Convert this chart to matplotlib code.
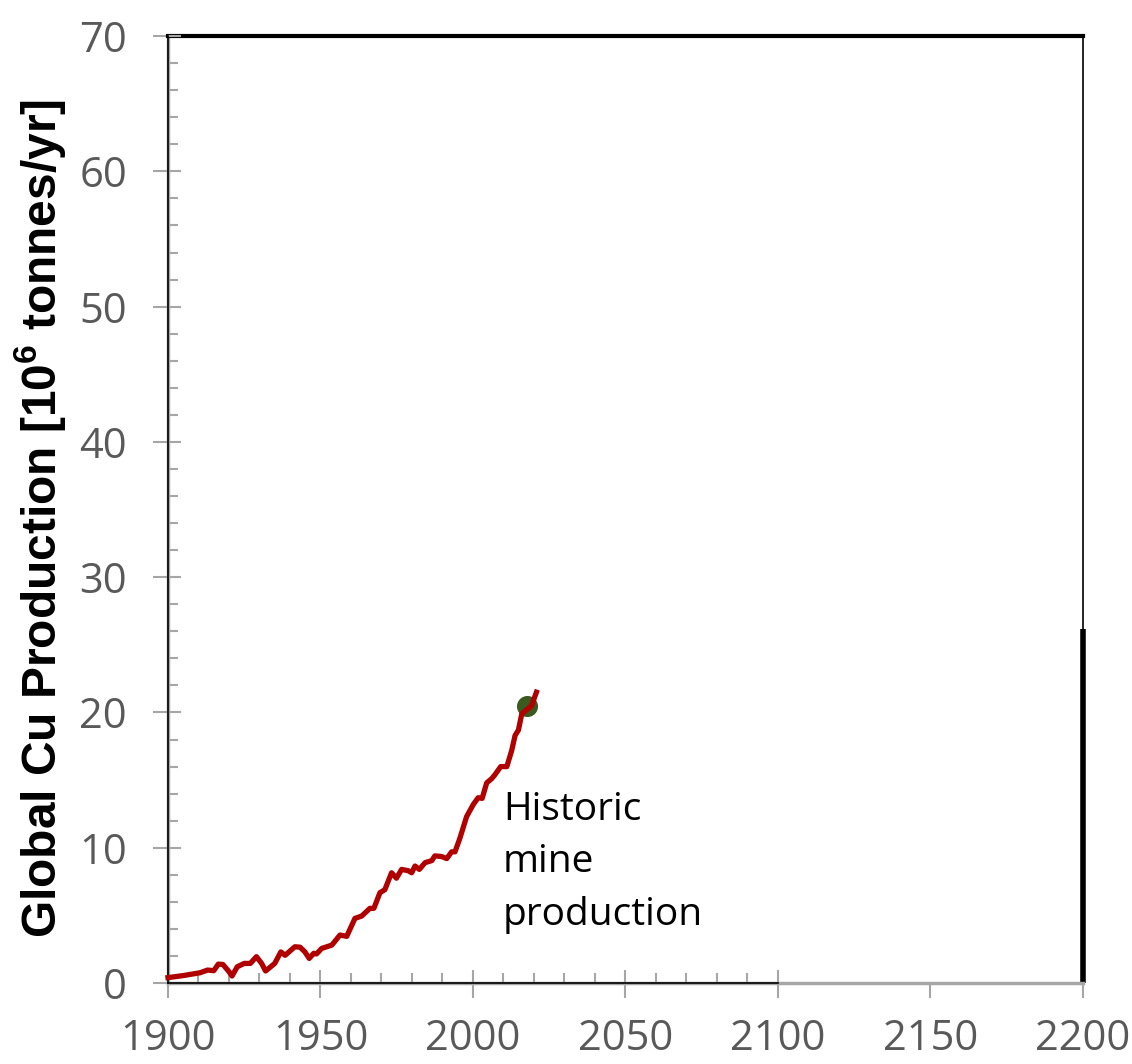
#!/usr/bin/env python

"""
Global copper mine production, 1900 to today, on a 1900-2200 frame.
"""

import matplotlib
matplotlib.use('Agg')
import matplotlib.pyplot as plt
from matplotlib.ticker import MultipleLocator

# Historic mine production [10^6 t/yr]
YEARS = [1900, 1905, 1910.5, 1913, 1915, 1916.5, 1918, 1920, 1921, 1922.7,
         1925, 1927, 1929, 1930.7, 1932, 1935, 1937, 1938.4, 1941.6, 1943.3,
         1944.9, 1946.3, 1947.8, 1948.7, 1950.4, 1953.7, 1956.4, 1958.6, 1961.3, 1963.5,
         1966.2, 1967.5, 1969.5, 1971.1, 1973.3, 1974.9, 1976.6, 1978.8, 1979.9, 1981,
         1982.4, 1984.3, 1986.5, 1987.5, 1989.7, 1991.4, 1993, 1994.1, 1995.7, 1997.9,
         2000.1, 2001.7, 2003, 2004.5, 2006.1, 2007.2, 2009.1, 2011.1, 2012.7, 2013.8,
         2014.9, 2016, 2017.6, 2019.2, 2020.8]
PRODUCTION = [0.40, 0.55, 0.76, 0.96, 0.91, 1.40, 1.37, 0.84, 0.52, 1.20,
              1.45, 1.45, 1.95, 1.45, 0.89, 1.45, 2.30, 2.05, 2.68, 2.65,
              2.30, 1.82, 2.20, 2.15, 2.56, 2.80, 3.55, 3.45, 4.78, 4.95,
              5.52, 5.52, 6.68, 6.90, 8.15, 7.75, 8.40, 8.30, 8.15, 8.65,
              8.40, 8.90, 9.05, 9.40, 9.35, 9.20, 9.70, 9.70, 10.7, 12.3,
              13.2, 13.7, 13.65, 14.8, 15.1, 15.4, 16.0, 16.0, 17.2, 18.3,
              18.7, 19.9, 20.2, 20.5, 21.5]

# Current-year marker
NOW_YEAR = [2017.6]
NOW_PROD = [20.5]

XMIN, XMAX, XINNER = 1900, 2200, 2100
YMIN, YMAX = 0, 70
RIGHT_BAR_TOP = 26.2

GRAY = '#a6a6a6'
LABEL_GRAY = '#595959'
RED = '#b00000'
GREEN = '#3a5a1f'

plt.rcParams['font.family'] = 'Open Sans'
plt.rcParams['mathtext.fontset'] = 'custom'
plt.rcParams['mathtext.rm'] = 'Liberation Sans'
plt.rcParams['mathtext.bf'] = 'Liberation Sans:bold'


def main():
    fig = plt.figure(figsize=(11.32, 10.64), dpi=100)
    L, B, W, H = 0.1484, 0.0761, 0.8083, 0.8900

    # Outer frame, 1900-2200
    ax = fig.add_axes([L, B, W, H])
    ax.set_xlim(XMIN, XMAX)
    ax.set_ylim(YMIN, YMAX)
    ax.set_xticks(range(XMIN, XMAX + 1, 50))
    ax.set_yticks(range(YMIN, YMAX + 1, 10))
    ax.spines['left'].set_color(GRAY)
    ax.spines['bottom'].set_color(GRAY)
    ax.spines['left'].set_linewidth(2.5)
    ax.spines['bottom'].set_linewidth(2.5)
    ax.spines['top'].set_color('black')
    ax.spines['top'].set_linewidth(3)
    ax.spines['right'].set_color('black')
    ax.spines['right'].set_linewidth(1.2)
    ax.tick_params(which='major', direction='out', length=10.5, width=1.5,
                   color=GRAY, labelsize=30, labelcolor=LABEL_GRAY)
    ax.tick_params(axis='y', pad=19)
    ax.tick_params(axis='x', pad=15)
    ax.vlines(XMAX, YMIN, RIGHT_BAR_TOP, color='black', lw=4, clip_on=False)

    # Inner frame, 1900-2100, carries the data
    ax2 = fig.add_axes([L, B, W * (XINNER - XMIN) / (XMAX - XMIN), H])
    ax2.patch.set_alpha(0)
    ax2.set_xlim(XMIN, XINNER)
    ax2.set_ylim(YMIN, YMAX)
    ax2.spines['top'].set_visible(False)
    ax2.spines['right'].set_visible(False)
    ax2.spines['left'].set_linewidth(1.2)
    ax2.spines['bottom'].set_linewidth(1.2)
    ax2.xaxis.set_major_locator(MultipleLocator(50))
    ax2.xaxis.set_minor_locator(MultipleLocator(10))
    ax2.yaxis.set_major_locator(MultipleLocator(10))
    ax2.yaxis.set_minor_locator(MultipleLocator(2))
    ax2.tick_params(which='major', direction='in', length=9.5, width=1.5,
                    color=GRAY, labelbottom=False, labelleft=False)
    ax2.tick_params(which='minor', direction='in', length=7, width=1.5,
                    color=GRAY)

    ax2.scatter(NOW_YEAR, NOW_PROD, s=200, color=GREEN, zorder=3, clip_on=False)
    ax2.plot(YEARS, PRODUCTION, color=RED, lw=3.8, solid_joinstyle='round',
             zorder=4, clip_on=False)

    ax2.text(2009.8, 14.2, 'Historic\nmine\nproduction', fontsize=28,
             color='black', ha='left', va='top', linespacing=1.5)

    fig.text(40 / 1132, 1 - 519 / 1064,
             r'Global Cu Production [10$^{\mathbf{6}}$ tonnes/yr]',
             rotation=90, ha='center', va='center', fontsize=34.5,
             fontweight='bold', family='Liberation Sans', color='black')

    fig.savefig('out.png', dpi=100, facecolor='white')


if __name__ == "__main__":
    main()
